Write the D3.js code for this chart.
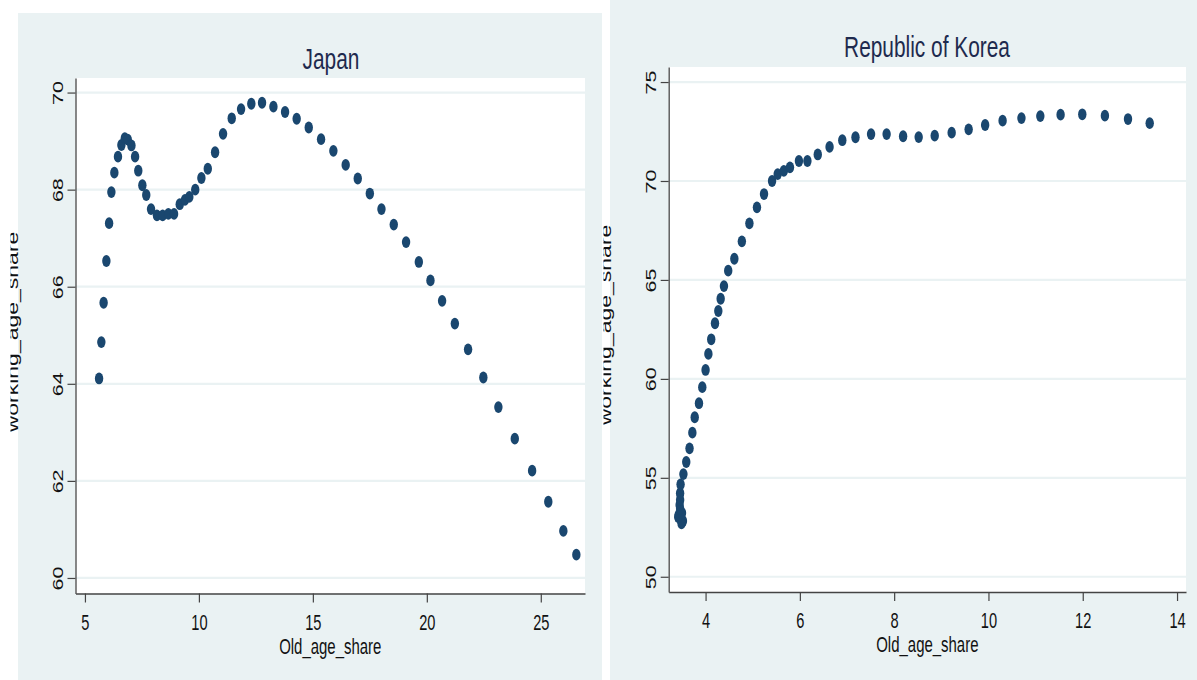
<!DOCTYPE html>
<html>
<head>
<meta charset="utf-8">
<script src="https://cdn.jsdelivr.net/npm/d3@7/dist/d3.min.js"></script>
<style>
  html, body { margin: 0; padding: 0; background: #ffffff; }
  svg { display: block; }
  text { font-family: "Liberation Sans", Arial, sans-serif; }
</style>
</head>
<body>
<svg id="chart" width="1197" height="680"></svg>
<script>
// Japan: share of population aged 65+ vs share aged 15-64 (%)
const japanOld = [5.62, 5.72, 5.82, 5.94, 6.06, 6.16, 6.29, 6.45, 6.60, 6.75,
  6.88, 7.04, 7.20, 7.34, 7.52, 7.69, 7.90, 8.16, 8.41, 8.66,
  8.91, 9.16, 9.39, 9.58, 9.84, 10.11, 10.39, 10.71, 11.06, 11.44,
  11.85, 12.30, 12.77, 13.27, 13.78, 14.29, 14.82, 15.36, 15.90, 16.44,
  16.97, 17.50, 18.01, 18.55, 19.09, 19.65, 20.16, 20.67, 21.23, 21.81,
  22.48, 23.14, 23.86, 24.62, 25.33, 25.99, 26.56];
const japanWorking = [64.11, 64.86, 65.67, 66.53, 67.31, 67.95, 68.35, 68.68, 68.92, 69.06,
  69.03, 68.91, 68.68, 68.39, 68.09, 67.89, 67.60, 67.47, 67.47, 67.50,
  67.50, 67.70, 67.79, 67.85, 68.00, 68.24, 68.43, 68.77, 69.15, 69.47,
  69.66, 69.77, 69.79, 69.71, 69.60, 69.46, 69.28, 69.04, 68.80, 68.51,
  68.23, 67.92, 67.60, 67.28, 66.92, 66.51, 66.13, 65.71, 65.24, 64.71,
  64.13, 63.52, 62.87, 62.21, 61.57, 60.97, 60.48];

// Republic of Korea
const koreaOld = [3.52, 3.49, 3.47, 3.42, 3.43, 3.50, 3.46, 3.45, 3.46, 3.46,
  3.47, 3.53, 3.59, 3.66, 3.72, 3.77, 3.86, 3.93, 4.00, 4.06,
  4.12, 4.20, 4.27, 4.32, 4.39, 4.48, 4.61, 4.77, 4.93, 5.09,
  5.24, 5.41, 5.53, 5.66, 5.79, 5.98, 6.16, 6.38, 6.63, 6.90,
  7.18, 7.51, 7.84, 8.19, 8.52, 8.86, 9.22, 9.58, 9.93, 10.30,
  10.70, 11.10, 11.53, 11.99, 12.47, 12.96, 13.42];
const koreaWorking = [52.82, 52.70, 52.92, 53.02, 53.12, 53.22, 53.43, 53.63, 53.88, 54.22,
  54.67, 55.19, 55.80, 56.49, 57.28, 58.06, 58.77, 59.58, 60.45, 61.26,
  62.00, 62.81, 63.43, 64.05, 64.69, 65.47, 66.07, 66.95, 67.86, 68.67,
  69.34, 70.00, 70.35, 70.51, 70.69, 71.01, 71.01, 71.34, 71.72, 72.06,
  72.21, 72.37, 72.37, 72.26, 72.22, 72.29, 72.44, 72.61, 72.83, 73.05,
  73.18, 73.28, 73.35, 73.37, 73.30, 73.13, 72.92];

const japanXTicks = [5, 10, 15, 20, 25];
const japanYTicks = [60, 62, 64, 66, 68, 70];
const koreaXTicks = [4, 6, 8, 10, 12, 14];
const koreaYTicks = [50, 55, 60, 65, 70, 75];

const xTitle = "Old_age_share";
const yTitle = "working_age_share";

const BG = "#eaf2f3";
const DOT = "#1a476f";
const SQUEEZE = 0.68;

const svg = d3.select("#chart");
const defs = svg.append("defs");

function panel(cfg) {
  // outer panel background
  svg.append("rect")
    .attr("x", cfg.bg[0]).attr("y", cfg.bg[1])
    .attr("width", cfg.bg[2]).attr("height", cfg.bg[3])
    .attr("fill", BG);

  const x = d3.scaleLinear().domain(cfg.xDomain).range([cfg.left, cfg.right]);
  const y = d3.scaleLinear().domain(cfg.yDomain).range([cfg.bottom, cfg.top]);

  // plot region
  svg.append("rect")
    .attr("x", cfg.left).attr("y", cfg.top)
    .attr("width", cfg.right - cfg.left).attr("height", cfg.bottom - cfg.top)
    .attr("fill", "#ffffff");

  // horizontal grid
  svg.append("g").selectAll("line").data(cfg.yTicks).join("line")
    .attr("x1", cfg.left).attr("x2", cfg.right)
    .attr("y1", d => y(d)).attr("y2", d => y(d))
    .attr("stroke", BG).attr("stroke-width", 2.2);

  // title
  svg.append("text")
    .attr("transform", `translate(${cfg.titleX},${cfg.titleY}) scale(0.72,1)`)
    .attr("text-anchor", "middle")
    .attr("font-size", 29)
    .attr("fill", "#1e2a4e")
    .text(cfg.title);

  // x axis
  const gx = svg.append("g")
    .attr("transform", `translate(0,${cfg.bottom})`)
    .call(d3.axisBottom(x).tickValues(cfg.xTicks).tickSize(9).tickPadding(12).tickSizeOuter(0)
      .tickFormat(d3.format("d")));
  gx.select(".domain").attr("stroke", "#444").attr("stroke-width", 1.4);
  gx.selectAll(".tick line").attr("stroke", "#444").attr("stroke-width", 1.2);
  gx.selectAll(".tick text")
    .attr("font-size", 21.5).attr("fill", "#111")
    .attr("font-family", "Liberation Sans, Arial, sans-serif")
    .attr("dy", "0.71em")
    .attr("transform", `scale(${SQUEEZE},1)`);

  // y axis
  const gy = svg.append("g")
    .attr("transform", `translate(${cfg.left},0)`)
    .call(d3.axisLeft(y).tickValues(cfg.yTicks).tickSize(8).tickSizeOuter(0)
      .tickFormat(d3.format("d")));
  gy.select(".domain").attr("stroke", "#555").attr("stroke-width", 1.4);
  gy.selectAll(".tick line").attr("stroke", "#444").attr("stroke-width", 1.2);
  gy.selectAll(".tick text")
    .attr("font-size", 21.5).attr("fill", "#111")
    .attr("font-family", "Liberation Sans, Arial, sans-serif")
    .attr("x", 0).attr("y", 0).attr("dy", 0)
    .attr("text-anchor", "middle")
    .attr("transform", `translate(${cfg.yLabelOffset},0) scale(${SQUEEZE},1) rotate(-90)`);

  // x axis title
  svg.append("text")
    .attr("transform", `translate(${(cfg.left + cfg.right) / 2},${cfg.bottom + 60}) scale(${SQUEEZE},1)`)
    .attr("text-anchor", "middle")
    .attr("font-size", 22)
    .attr("fill", "#111")
    .text(xTitle);

  // y axis title, cut at the panel edge
  const clipId = "clip-" + cfg.id;
  defs.append("clipPath").attr("id", clipId)
    .append("rect").attr("x", cfg.yTitleClip).attr("y", 0)
    .attr("width", 40).attr("height", 680);
  svg.append("g").attr("clip-path", `url(#${clipId})`)
    .append("text")
    .attr("transform", `translate(${cfg.yTitleX},${cfg.yTitleY}) scale(${SQUEEZE},1) rotate(-90)`)
    .attr("text-anchor", "middle")
    .attr("font-size", 23)
    .attr("fill", "#111")
    .text(yTitle);

  // points
  svg.append("g").selectAll("ellipse")
    .data(cfg.xs.map((v, i) => [v, cfg.ys[i]]))
    .join("ellipse")
    .attr("cx", d => x(d[0]))
    .attr("cy", d => y(d[1]))
    .attr("rx", 4.2).attr("ry", 5.9)
    .attr("fill", DOT);
}

panel({
  id: "jp", title: "Japan",
  bg: [18, 13, 584, 667],
  left: 75.5, right: 585, top: 78, bottom: 593.5,
  xDomain: [4.586, 26.94], yDomain: [59.68, 70.30],
  xTicks: japanXTicks, yTicks: japanYTicks,
  titleX: 331, titleY: 69,
  yLabelOffset: -13,
  yTitleX: 18, yTitleY: 332, yTitleClip: 10.5,
  xs: japanOld, ys: japanWorking
});

panel({
  id: "kr", title: "Republic of Korea",
  bg: [610, 0, 587, 680],
  left: 668.7, right: 1186, top: 67, bottom: 592,
  xDomain: [3.218, 14.19], yDomain: [49.23, 75.76],
  xTicks: koreaXTicks, yTicks: koreaYTicks,
  titleX: 927, titleY: 57,
  yLabelOffset: -13,
  yTitleX: 611, yTitleY: 325, yTitleClip: 603.5,
  xs: koreaOld, ys: koreaWorking
});
</script>
</body>
</html>
